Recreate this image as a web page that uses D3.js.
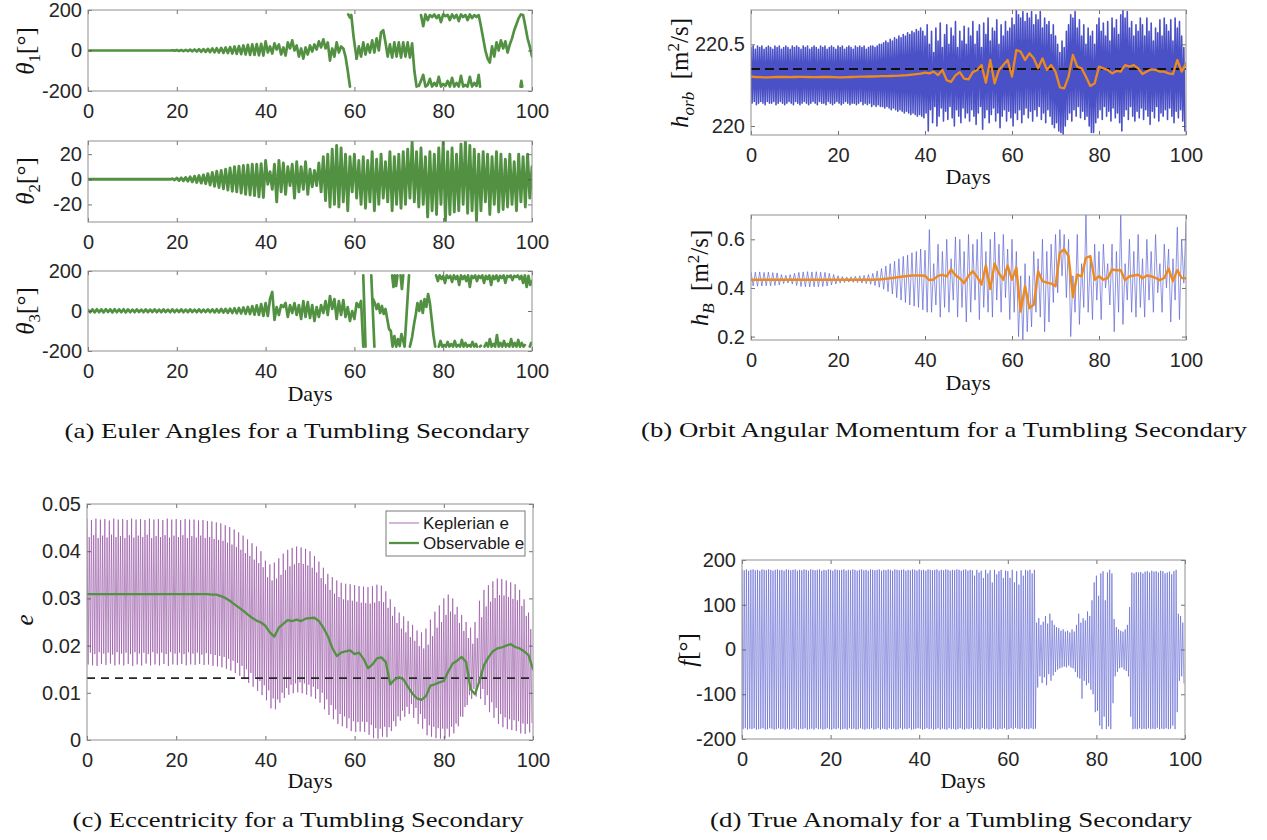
<!DOCTYPE html>
<html>
<head>
<meta charset="utf-8">
<script src="https://cdn.jsdelivr.net/npm/d3@7/dist/d3.min.js"></script>
<style>
  html, body { margin: 0; padding: 0; background: #fff; }
  svg { display: block; }
  .tick text { font-family: "Liberation Sans", Arial, Helvetica, sans-serif; font-size: 20px; fill: #262626; }
  .tick line { stroke: #4d4d4d; stroke-width: 0.8; }
  .serif { font-family: "Liberation Serif", "Times New Roman", serif; fill: #111; white-space: pre; }
</style>
</head>
<body>
<svg id="fig" width="1267" height="840"></svg>
<script>
// ---------------- data ----------------
const dayTicks = [0, 20, 40, 60, 80, 100];

// Euler angle theta1 [deg], sampled every 0.5 day (null = wrap gap)
const theta1 = [
  0,0,0,0,0,0,0,0,0,0,0,0,0,0,0,0,0,0,0,0,
  0,0,0,0,0,0,0,0,0,0,0,0,0,0,0,0,0,0,1,-1,
  2,-2,2,-3,3,-3,4,-4,5,-5,6,-6,7,-7,8,-8,10,-9,11,-10,
  13,-12,15,-13,17,-15,20,-17,22,-18,25,-20,28,-22,30,-22,32,-24,33,-25,
  45,-10,20,-15,35,5,30,-20,15,-25,40,10,50,0,25,-30,10,-40,15,-20,
  25,-5,30,5,45,15,55,10,40,-50,10,-30,40,-10,20,10,-30,-100,-178,null,
  null,-40,20,-30,40,-20,30,-10,50,-10,60,0,90,100,40,-30,30,-35,40,-30,
  40,-35,40,-30,40,-35,35,-100,-178,null,175,120,178,150,175,165,178,160,175,140,
  178,170,176,150,178,160,176,145,178,165,176,150,178,160,175,165,175,120,60,0,
  -40,-60,20,-30,40,0,50,10,45,-10,30,60,100,130,160,178,175,120,60,20,
  -30
];
// wrapped branches of theta1: [day, deg]
const theta1Wrapped = [
  [58.6,178],[59.0,162],[59.3,176],[59.8,70],[60.5,-40], null,
  [74.5,-175],[75,-150],[75.5,-120],[76,-178],[76.5,-170],[77,-140],[77.5,-178],[78,-160],[78.5,-175],
  [79,-130],[79.5,-178],[80,-165],[80.5,-175],[81,-150],[81.5,-178],[82,-135],[82.5,-178],[83,-160],
  [83.5,-178],[84,-125],[84.5,-178],[85,-170],[85.5,-178],[86,-130],[86.5,-178],[87,-160],[87.5,-175],
  [88,-120],[88.3,-178], null,
  [97.4,-178],[97.6,-150],[97.8,-178]
];

// Euler angle theta2 [deg], every 0.5 day
const theta2 = [
  0,0,0,0,0,0,0,0,0,0,0,0,0,0,0,0,0,0,0,0,
  0,0,0,0,0,0,0,0,0,0,0,0,0,0,0,0,0,0,0.5,-0.5,
  1,-1,1.2,-1.2,1.5,-1.5,2,-2,2.5,-2.5,3,-3,3.5,-3.5,4.5,-4.5,5.5,-5.5,6.5,-6.5,
  7,-7.5,8,-8.5,9,-9.5,10,-10,10.5,-11,11,-12,11.5,-12.5,12,-13,12,-14,12.5,-14.5,
  15,-4,6,-8,12,-18,15,-10,13,-12,10,-5,12,-15,14,-10,10,-8,14,-12,
  8,-6,7,-5,13,-10,18,-17,20,-22,24,-20,27,-22,25,-18,20,-25,18,-10,
  20,-15,15,-20,18,-23,15,-18,22,-25,16,-20,20,-15,14,-18,22,-25,18,-20,
  20,-23,22,-20,24,-15,30,-18,22,-22,25,-20,18,-30,22,-25,20,-28,25,-20,
  30,-33,22,-28,25,-26,20,-25,28,-20,31,-27,27,-25,24,-33,20,-25,22,-18,
  20,-28,18,-20,22,-26,20,-24,16,-22,20,-20,14,-25,20,-18,18,-22,20,-15,
  10
];

// Euler angle theta3 [deg], every 0.5 day from day 0 to day 62
const theta3 = [
  5,-6,8,-7,9,-6,8,-7,9,-5,8,-7,9,-6,8,-6,9,-7,8,-6,
  7,-6,8,-5,7,-6,8,-6,7,-5,8,-6,7,-6,8,-5,7,-6,8,-6,
  7,-5,8,-6,7,-6,8,-5,7,-6,8,-6,7,-5,8,-6,8,-7,9,-7,
  10,-8,11,-9,12,-10,14,-11,15,-12,18,-14,20,-15,24,-18,28,-20,35,-25,
  40,-25,60,95,-45,20,-20,30,20,40,-30,30,-10,40,-20,30,-40,50,-30,45,
  -35,30,-50,20,-30,30,-10,50,-20,75,10,60,-40,50,-20,55,-30,20,-50,0,
  -40,40,20,50,-178
];
// theta3 after day 62 (tumbling, wraps at +/-180): [day, deg]
const theta3Late = [
  [62.0,178],[62.5,-178], null,
  [63.8,178],[64.5,-178], null,
  [64.2,60],[64.6,40],[65.0,10],[65.4,35],[65.8,-10],[66.2,25],[66.6,-15],[67.0,10],[67.4,-40],[67.8,-90],
  [68.2,-100],[68.6,-178],[69.0,-125],[69.4,-178],[69.8,-140],[70.2,-175],[70.6,-115],[71.0,-150],[71.3,-178],[72.3,178], null,
  [68.5,178],[68.8,120],[69.1,178],[69.4,125],[69.7,178], null,
  [70.4,178],[70.7,110],[71.0,178], null,
  [72.5,-178],[73.0,-130],[73.4,-70],[73.8,-20],[74.2,40],[74.6,0],[75.0,50],[75.4,-10],[75.8,60],[76.2,20],
  [76.6,85],[77.0,40],[77.4,-40],[77.8,-120],[78.2,-178], null,
  [78.4,178],[78.8,150],[79.2,178],[79.6,160],[80,175],[80.4,140],[80.8,178],[81.2,165],[81.6,176],[82,145],
  [82.4,178],[82.8,160],[83.2,175],[83.6,130],[84,178],[84.4,160],[84.8,176],[85.2,150],[85.6,178],[86,120],
  [86.4,176],[86.8,165],[87.2,178],[87.6,150],[88,176],[88.4,165],[88.8,178],[89.2,140],[89.6,176],[90,160],
  [90.4,178],[90.8,130],[91.2,176],[91.6,160],[92,178],[92.4,150],[92.8,176],[93.2,165],[93.6,178],[94,140],
  [94.4,176],[94.8,170],[95.2,178],[95.6,155],[96,176],[96.4,170],[96.8,178],[97.2,160],[97.6,176],[98,140],
  [98.4,178],[98.8,120],[99.2,176],[99.6,130],[100,150], null,
  [79,-178],[79.4,-150],[79.8,-178],[80.2,-170],[80.6,-178],[81,-155],[81.4,-178],[81.8,-165],[82.2,-178],[82.6,-150],
  [83,-178],[83.4,-170],[83.8,-178],[84.2,-145],[84.6,-178],[85,-160],[85.4,-178],[85.8,-170],[86.2,-178],[86.6,-155],
  [87,-178],[87.4,-165],[87.6,-178], null,
  [88.3,-178],[88.5,-174], null,
  [89.3,-178],[89.7,-160],[90.1,-178],[90.5,-140],[90.9,-178],[91.3,-165],[91.7,-178],[92.1,-120],[92.5,-178],[92.9,-160],
  [93.3,-178],[93.7,-150],[94.1,-178],[94.5,-165],[94.9,-178],[95.3,-140],[95.7,-178],[96.1,-160],[96.5,-178],[96.9,-145],
  [97.3,-178],[97.7,-160],[98.1,-178],[98.4,-170], null,
  [99.5,-178],[99.8,-160]
];

// orbit angular momentum h_orb [m^2/s]: maxima (day i*0.5) and minima (day i*0.5+0.25)
const hOrbPeaks = [
  220.48,220.49,220.47,220.49,220.48,220.49,220.47,220.48,220.49,220.48,220.47,220.49,220.48,220.49,220.47,220.48,220.49,220.48,220.47,220.49,
  220.48,220.49,220.48,220.47,220.49,220.48,220.49,220.47,220.48,220.49,220.48,220.47,220.49,220.48,220.49,220.47,220.48,220.49,220.48,220.47,
  220.49,220.48,220.49,220.47,220.48,220.49,220.48,220.47,220.49,220.48,220.49,220.48,220.49,220.47,220.48,220.49,220.49,220.48,220.49,220.50,
  220.50,220.51,220.52,220.51,220.53,220.52,220.54,220.53,220.55,220.54,220.56,220.55,220.57,220.56,220.58,220.57,220.59,220.58,220.60,220.58,
  220.55,220.62,220.50,220.58,220.45,220.60,220.52,220.63,220.48,220.56,220.62,220.50,220.60,220.55,220.64,220.48,220.58,220.52,220.61,220.50,
  220.60,220.55,220.64,220.50,220.58,220.62,220.48,220.63,220.56,220.66,220.52,220.60,220.58,220.65,220.50,220.62,220.55,220.64,220.58,220.60,
  220.66,220.62,220.71,220.68,220.66,220.70,220.64,220.69,220.66,220.70,220.62,220.68,220.65,220.70,220.60,220.66,220.62,220.64,220.56,220.62,
  220.55,220.50,220.45,220.52,220.48,220.58,220.62,220.68,220.66,220.70,220.60,220.65,220.55,220.62,220.50,220.60,220.55,220.58,220.50,220.62,
  220.66,220.58,220.63,220.55,220.64,220.52,220.66,220.60,220.65,220.56,220.68,220.71,220.66,220.70,220.60,220.64,220.55,220.62,220.58,220.66,
  220.62,220.55,220.66,220.58,220.63,220.52,220.60,220.57,220.65,220.55,220.66,220.62,220.58,220.65,220.52,220.66,220.60,220.64,220.55,220.48
];
const hOrbTroughs = [
  220.14,220.15,220.13,220.14,220.15,220.14,220.13,220.15,220.14,220.14,220.15,220.13,220.14,220.15,220.14,220.13,220.14,220.15,220.14,220.13,
  220.15,220.14,220.13,220.14,220.15,220.14,220.13,220.14,220.15,220.14,220.13,220.15,220.14,220.14,220.13,220.15,220.14,220.13,220.14,220.15,
  220.14,220.13,220.14,220.15,220.14,220.13,220.14,220.14,220.13,220.14,220.15,220.13,220.14,220.13,220.14,220.12,220.13,220.12,220.13,220.12,
  220.12,220.11,220.12,220.11,220.10,220.11,220.10,220.09,220.10,220.09,220.08,220.09,220.08,220.07,220.08,220.07,220.06,220.07,220.06,220.05,
  220.08,219.97,220.10,220.02,220.12,220.00,220.06,220.11,220.03,220.09,220.04,220.12,220.05,220.00,220.10,220.06,220.02,220.11,220.05,220.08,
  220.03,220.10,220.06,220.01,220.08,220.12,219.98,220.05,220.10,220.02,220.07,220.11,220.03,220.08,219.99,220.06,220.10,220.03,220.09,220.05,
  220.00,220.08,220.04,220.10,220.02,220.07,220.11,220.05,220.09,220.03,220.10,220.06,220.12,220.04,220.08,220.02,220.10,220.06,220.01,219.99,
  220.02,219.97,219.96,219.95,220.00,220.04,220.08,220.03,220.10,220.06,220.12,220.05,220.09,220.04,220.06,220.00,219.96,219.96,220.02,220.05,
  220.10,220.04,220.12,220.06,220.09,220.03,220.11,220.05,220.08,220.02,219.97,220.06,220.10,220.04,220.12,220.06,220.03,220.09,220.05,220.11,
  220.04,220.10,220.06,220.01,220.09,220.05,220.12,220.03,220.08,220.06,220.10,220.04,220.11,220.06,220.02,220.09,220.05,220.10,220.03,219.97
];
// daily mean of h_orb
const hOrbMean = [
  220.302,220.300,220.299,220.298,220.298,220.299,220.300,220.301,220.300,220.299,
  220.300,220.301,220.301,220.300,220.299,220.299,220.300,220.301,220.300,220.299,
  220.298,220.298,220.299,220.300,220.301,220.302,220.302,220.303,220.303,220.304,
  220.305,220.305,220.306,220.307,220.308,220.310,220.312,220.315,220.318,220.320,
  220.327,220.322,220.333,220.312,220.343,220.280,220.270,220.310,220.330,220.290,
  220.286,220.330,220.343,220.373,220.265,220.404,220.261,220.343,220.373,220.404,
  220.302,220.465,220.455,220.404,220.445,220.414,220.353,220.414,220.343,220.373,
  220.333,220.237,220.230,220.302,220.435,220.363,220.353,220.302,220.245,220.261,
  220.363,220.353,220.343,220.322,220.337,220.333,220.373,220.363,220.373,220.353,
  220.318,220.333,220.347,220.343,220.333,220.333,220.322,220.318,220.404,220.333,
  220.384
];
const hOrbReference = 220.349;

// body angular momentum h_B [m^2/s]: maxima (day i) and minima (day i+0.5)
const hBPeaks = [
  0.466,0.465,0.466,0.464,0.465,0.463,0.462,0.455,0.452,0.455,
  0.460,0.464,0.466,0.467,0.466,0.467,0.465,0.464,0.460,0.455,
  0.450,0.447,0.445,0.446,0.448,0.450,0.452,0.455,0.460,0.470,
  0.480,0.490,0.500,0.510,0.520,0.530,0.535,0.545,0.550,0.560,
  0.555,0.640,0.500,0.580,0.550,0.600,0.520,0.610,0.600,0.550,
  0.620,0.580,0.600,0.630,0.550,0.600,0.630,0.580,0.620,0.560,
  0.600,0.550,0.450,0.500,0.450,0.550,0.520,0.600,0.550,0.580,
  0.620,0.640,0.620,0.600,0.450,0.620,0.500,0.700,0.520,0.580,
  0.550,0.580,0.500,0.580,0.550,0.700,0.500,0.600,0.550,0.620,
  0.520,0.600,0.550,0.620,0.500,0.580,0.560,0.520,0.650,0.600,
  0.670
];
const hBTroughs = [
  0.408,0.407,0.408,0.409,0.408,0.410,0.412,0.418,0.420,0.416,
  0.410,0.406,0.405,0.404,0.405,0.405,0.406,0.408,0.412,0.416,
  0.420,0.422,0.424,0.423,0.422,0.420,0.418,0.415,0.410,0.403,
  0.395,0.385,0.375,0.360,0.350,0.340,0.330,0.325,0.320,0.310,
  0.300,0.300,0.330,0.280,0.320,0.300,0.350,0.280,0.320,0.260,
  0.300,0.350,0.270,0.320,0.300,0.280,0.350,0.300,0.360,0.270,
  0.300,0.200,0.180,0.220,0.240,0.300,0.280,0.220,0.260,0.340,
  0.380,0.450,0.360,0.200,0.300,0.250,0.320,0.300,0.270,0.350,
  0.270,0.400,0.330,0.220,0.300,0.250,0.350,0.300,0.280,0.320,
  0.280,0.350,0.300,0.380,0.300,0.400,0.260,0.350,0.270,0.420
];
const hBMean = [
  0.434,0.434,0.434,0.434,0.434,0.434,0.434,0.434,0.434,0.434,
  0.434,0.434,0.434,0.434,0.434,0.434,0.434,0.434,0.434,0.434,
  0.434,0.434,0.434,0.434,0.434,0.434,0.434,0.434,0.434,0.435,
  0.436,0.438,0.440,0.442,0.445,0.447,0.449,0.451,0.451,0.451,
  0.450,0.432,0.435,0.450,0.454,0.448,0.476,0.452,0.440,0.420,
  0.450,0.469,0.445,0.414,0.492,0.396,0.500,0.460,0.434,0.492,
  0.434,0.483,0.303,0.407,0.317,0.331,0.469,0.428,0.422,0.418,
  0.407,0.545,0.559,0.531,0.363,0.455,0.448,0.524,0.531,0.434,
  0.448,0.434,0.440,0.476,0.473,0.473,0.432,0.448,0.451,0.455,
  0.440,0.451,0.448,0.441,0.432,0.441,0.479,0.428,0.473,0.441,
  0.440
];

// Keplerian eccentricity: maxima (day i*0.5) and minima (day i*0.5+0.25)
const eKeplerPeaks = [
  0.0468,0.0430,0.0466,0.0434,0.0469,0.0428,0.0467,0.0433,0.0468,0.0429,0.0465,0.0435,0.0469,0.0430,0.0467,0.0432,0.0468,0.0428,0.0466,0.0434,
  0.0469,0.0429,0.0467,0.0433,0.0468,0.0430,0.0466,0.0435,0.0469,0.0428,0.0467,0.0432,0.0468,0.0430,0.0466,0.0434,0.0469,0.0429,0.0467,0.0433,
  0.0468,0.0430,0.0466,0.0434,0.0468,0.0428,0.0467,0.0432,0.0467,0.0429,0.0465,0.0433,0.0466,0.0428,0.0464,0.0430,0.0463,0.0426,0.0461,0.0424,
  0.0459,0.0422,0.0455,0.0418,0.0451,0.0414,0.0446,0.0409,0.0440,0.0403,0.0433,0.0396,0.0425,0.0390,0.0417,0.0382,0.0410,0.0375,0.0400,0.0366,
  0.0380,0.0345,0.0372,0.0338,0.0376,0.0342,0.0385,0.0350,0.0395,0.0360,0.0403,0.0368,0.0407,0.0372,0.0410,0.0375,0.0408,0.0373,0.0405,0.0370,
  0.0400,0.0365,0.0390,0.0355,0.0378,0.0343,0.0365,0.0330,0.0352,0.0318,0.0345,0.0310,0.0338,0.0303,0.0333,0.0298,0.0331,0.0296,0.0330,0.0295,
  0.0328,0.0293,0.0326,0.0291,0.0325,0.0290,0.0324,0.0289,0.0326,0.0291,0.0329,0.0294,0.0327,0.0292,0.0315,0.0280,0.0298,0.0263,0.0282,0.0248,
  0.0270,0.0236,0.0262,0.0228,0.0252,0.0218,0.0244,0.0210,0.0232,0.0199,0.0228,0.0194,0.0236,0.0202,0.0255,0.0220,0.0272,0.0238,0.0285,0.0250,
  0.0300,0.0265,0.0308,0.0272,0.0300,0.0266,0.0282,0.0248,0.0265,0.0231,0.0250,0.0216,0.0238,0.0204,0.0250,0.0216,0.0295,0.0260,0.0318,0.0283,
  0.0328,0.0293,0.0336,0.0301,0.0342,0.0307,0.0341,0.0306,0.0338,0.0303,0.0334,0.0299,0.0330,0.0296,0.0318,0.0284,0.0298,0.0263,0.0270,0.0235
];
const eKeplerTroughs = [
  0.0160,0.0185,0.0158,0.0182,0.0157,0.0186,0.0161,0.0183,0.0159,0.0185,0.0162,0.0181,0.0158,0.0186,0.0160,0.0183,0.0158,0.0185,0.0161,0.0182,
  0.0157,0.0186,0.0160,0.0183,0.0158,0.0185,0.0162,0.0182,0.0158,0.0186,0.0160,0.0183,0.0158,0.0185,0.0161,0.0182,0.0157,0.0186,0.0160,0.0183,
  0.0159,0.0185,0.0161,0.0182,0.0158,0.0186,0.0160,0.0183,0.0159,0.0185,0.0161,0.0181,0.0159,0.0184,0.0160,0.0182,0.0157,0.0180,0.0156,0.0178,
  0.0154,0.0176,0.0151,0.0172,0.0147,0.0168,0.0142,0.0163,0.0136,0.0157,0.0129,0.0150,0.0121,0.0142,0.0113,0.0134,0.0104,0.0125,0.0095,0.0116,
  0.0084,0.0105,0.0067,0.0088,0.0065,0.0086,0.0079,0.0100,0.0089,0.0110,0.0096,0.0117,0.0099,0.0120,0.0101,0.0122,0.0099,0.0120,0.0096,0.0117,
  0.0092,0.0113,0.0087,0.0108,0.0079,0.0100,0.0065,0.0086,0.0053,0.0074,0.0044,0.0065,0.0034,0.0055,0.0029,0.0050,0.0025,0.0046,0.0019,0.0040,
  0.0017,0.0038,0.0018,0.0039,0.0017,0.0038,0.0011,0.0032,0.0004,0.0025,0.0003,0.0024,0.0007,0.0028,0.0006,0.0027,0.0019,0.0040,0.0029,0.0050,
  0.0041,0.0062,0.0049,0.0070,0.0055,0.0076,0.0047,0.0068,0.0034,0.0055,0.0024,0.0045,0.0010,0.0031,0.0007,0.0028,0.0004,0.0025,0.0003,0.0024,
  0.0003,0.0024,0.0007,0.0028,0.0014,0.0035,0.0029,0.0050,0.0049,0.0070,0.0074,0.0095,0.0087,0.0108,0.0092,0.0113,0.0087,0.0108,0.0074,0.0095,
  0.0059,0.0080,0.0047,0.0068,0.0034,0.0055,0.0027,0.0048,0.0023,0.0044,0.0021,0.0042,0.0019,0.0040,0.0014,0.0035,0.0013,0.0034,0.0016,0.0037
];
// observable eccentricity, daily
const eObservable = [
  0.0309,0.0309,0.0309,0.0309,0.0309,0.0309,0.0309,0.0309,0.0309,0.0309,
  0.0309,0.0309,0.0309,0.0309,0.0309,0.0309,0.0309,0.0309,0.0309,0.0309,
  0.0309,0.0309,0.0309,0.0309,0.0309,0.0309,0.0309,0.0309,0.0308,0.0308,
  0.0305,0.0301,0.0295,0.0288,0.0281,0.0274,0.0266,0.0259,0.0253,0.0249,
  0.0242,0.0228,0.0219,0.0238,0.0246,0.0254,0.0252,0.0255,0.0252,0.0257,
  0.0258,0.0259,0.0252,0.0238,0.0220,0.0195,0.0178,0.0185,0.0188,0.0190,
  0.0182,0.0185,0.0172,0.0152,0.0160,0.0173,0.0175,0.0165,0.0118,0.0128,
  0.0133,0.0128,0.0112,0.0098,0.0088,0.0085,0.0093,0.0115,0.0118,0.0122,
  0.0125,0.0145,0.0162,0.0168,0.0176,0.0165,0.0108,0.0097,0.0125,0.0158,
  0.0175,0.0188,0.0194,0.0196,0.0200,0.0203,0.0197,0.0194,0.0188,0.0180,
  0.0150
];
const eReference = 0.0131;

// true anomaly f [deg]: maxima (day i*0.5) and minima (day i*0.5+0.25)
const fPeaks = [
  178,177,179,176,178,179,177,178,176,179,178,177,179,178,176,178,179,177,178,176,
  179,178,177,178,179,176,178,177,179,178,176,179,178,177,178,179,176,178,177,179,
  178,176,179,178,177,178,179,176,178,177,179,178,176,178,179,177,178,176,179,178,
  177,178,179,176,178,177,179,178,176,179,178,177,178,179,176,178,177,179,178,176,
  179,177,178,176,179,178,177,178,179,176,178,177,179,178,176,178,177,179,178,176,
  178,179,176,178,177,165,178,172,176,160,178,170,177,150,178,168,175,178,160,176,
  175,160,178,150,175,145,177,165,178,176,178,170,178,60,70,55,62,75,58,80,
  65,55,50,48,42,45,40,42,38,45,40,55,80,60,70,65,85,75,110,150,
  165,120,170,175,110,172,178,170,68,50,45,42,40,45,55,95,172,170,173,172,
  173,170,174,175,172,176,174,175,172,176,175,170,172,174,168,175,178,80,75,60
];
const fTroughs = [
  -178,-176,-179,-177,-178,-176,-179,-178,-177,-176,-179,-178,-176,-177,-179,-178,-176,-178,-177,-179,
  -177,-179,-178,-176,-178,-179,-177,-178,-176,-179,-178,-177,-179,-176,-178,-177,-179,-178,-176,-178,
  -179,-177,-178,-176,-179,-178,-177,-179,-176,-178,-177,-179,-178,-176,-178,-179,-177,-178,-176,-179,
  -178,-176,-179,-177,-178,-179,-176,-178,-177,-179,-178,-176,-179,-177,-178,-176,-179,-178,-177,-176,
  -177,-179,-178,-176,-178,-177,-179,-178,-176,-179,-177,-178,-179,-176,-178,-177,-179,-178,-176,-178,
  -179,-177,-178,-176,-179,-178,-177,-179,-176,-178,-177,-179,-178,-176,-178,-179,-177,-178,-176,-179,
  -178,-176,-178,-175,-177,-178,-176,-178,-177,-178,-176,-178,-177,-85,-60,-75,-62,-80,-55,-70,
  -58,-50,-45,-42,-40,-38,-40,-36,-40,-42,-50,-62,-65,-110,-70,-80,-75,-90,-100,-140,
  -137,-170,-178,-150,-178,-172,-178,-120,-60,-50,-42,-40,-45,-48,-60,-150,-178,-177,-178,-176,
  -178,-177,-178,-176,-178,-177,-178,-175,-178,-177,-178,-176,-178,-177,-170,-178,-140,-70,-60,-75
];

// ---------------- layout & style ----------------
const svg = d3.select('#fig');
const GREEN = '#529142', BLUE = '#4a50c6', ORANGE = '#ec8a1f', PURPLE = '#8e469c';

function panel(id, box, yDomain) {
  const x = d3.scaleLinear().domain([0, 100]).range([box.x0, box.x1]);
  const y = d3.scaleLinear().domain(yDomain).range([box.y1, box.y0]);
  svg.append('clipPath').attr('id', 'clip-' + id).append('rect')
    .attr('x', box.x0).attr('y', box.y0)
    .attr('width', box.x1 - box.x0).attr('height', box.y1 - box.y0);
  const plot = svg.append('g').attr('clip-path', `url(#clip-${id})`);
  return { x, y, plot, box };
}

function axes(p, yTicks) {
  const { x, y, box } = p;
  const fmt = d => String(d);
  const g = svg.append('g');
  g.append('g').attr('transform', `translate(0,${box.y1})`)
    .call(d3.axisBottom(x).tickValues(dayTicks).tickSizeInner(-4).tickSizeOuter(0).tickPadding(13).tickFormat(fmt));
  g.append('g').attr('transform', `translate(0,${box.y0})`)
    .call(d3.axisTop(x).tickValues(dayTicks).tickSizeInner(-4).tickSizeOuter(0).tickFormat(''));
  g.append('g').attr('transform', `translate(${box.x0},0)`)
    .call(d3.axisLeft(y).tickValues(yTicks).tickSizeInner(-4).tickSizeOuter(0).tickPadding(6).tickFormat(fmt));
  g.append('g').attr('transform', `translate(${box.x1},0)`)
    .call(d3.axisRight(y).tickValues(yTicks).tickSizeInner(-4).tickSizeOuter(0).tickFormat(''));
  g.selectAll('.domain').remove();
  g.append('rect').attr('x', box.x0).attr('y', box.y0)
    .attr('width', box.x1 - box.x0).attr('height', box.y1 - box.y0)
    .attr('fill', 'none').attr('stroke', '#8f8f8f').attr('stroke-width', 1);
}

function path(p, pts, stroke, width, opacity) {
  const line = d3.line().defined(d => d !== null)
    .x(d => p.x(d[0])).y(d => p.y(d[1]));
  return p.plot.append('path').datum(pts).attr('d', line)
    .attr('fill', 'none').attr('stroke', stroke).attr('stroke-width', width)
    .attr('stroke-opacity', opacity == null ? 1 : opacity)
    .attr('stroke-linejoin', 'round').attr('stroke-linecap', 'round');
}

const uniform = (vals, step) => vals.map((v, i) => v === null ? null : [i * step, v]);
function zigzag(peaks, troughs, step) {
  const pts = [];
  peaks.forEach((v, i) => {
    pts.push([i * step, v]);
    if (i < troughs.length) pts.push([i * step + step / 2, troughs[i]]);
  });
  return pts;
}

function yLabel(cx, cy, parts, size) {
  const t = svg.append('text').attr('class', 'serif').attr('font-size', size || 25)
    .attr('text-anchor', 'middle').attr('y', 8)
    .attr('transform', `translate(${cx},${cy}) rotate(-90)`);
  let shift = 0;
  parts.forEach(pt => {
    const target = pt.sub ? 6 : pt.sup ? -9 : 0;
    const s = t.append('tspan').text(pt.t).attr('dy', target - shift);
    shift = target;
    if (pt.sub || pt.sup) s.attr('font-size', 17);
    if (pt.it) s.attr('font-style', 'italic');
  });
}

function label(x, y, txt, size, len) {
  const t = svg.append('text').attr('class', 'serif').attr('x', x).attr('y', y)
    .attr('text-anchor', 'middle').attr('font-size', size).text(txt);
  if (len) t.attr('textLength', len).attr('lengthAdjust', 'spacingAndGlyphs');
}

// ---------------- (a) Euler angles ----------------
const pT1 = panel('t1', { x0: 88, x1: 532, y0: 10, y1: 91 }, [-200, 200]);
path(pT1, uniform(theta1, 0.5), GREEN, 2.7);
path(pT1, theta1Wrapped, GREEN, 2.7);
axes(pT1, [-200, 0, 200]);
yLabel(26, 51, [{ t: 'θ', it: true }, { t: '1', sub: true }, { t: '[°]' }]);

const pT2 = panel('t2', { x0: 88, x1: 532, y0: 141, y1: 222 }, [-34, 30.5]);
path(pT2, uniform(theta2, 0.5), GREEN, 2.9);
axes(pT2, [-20, 0, 20]);
yLabel(26, 181, [{ t: 'θ', it: true }, { t: '2', sub: true }, { t: '[°]' }]);

const pT3 = panel('t3', { x0: 88, x1: 532, y0: 271, y1: 351 }, [-200, 200]);
path(pT3, uniform(theta3, 0.5), GREEN, 2.7);
path(pT3, theta3Late, GREEN, 2.7);
axes(pT3, [-200, 0, 200]);
yLabel(26, 311, [{ t: 'θ', it: true }, { t: '3', sub: true }, { t: '[°]' }]);
label(310, 401, 'Days', 22);
label(297, 438, '(a) Euler Angles for a Tumbling Secondary', 22, 465);

// ---------------- (b) orbit angular momentum ----------------
const pHo = panel('ho', { x0: 751, x1: 1186, y0: 10, y1: 135 }, [219.945, 220.71]);
path(pHo, zigzag(hOrbPeaks, hOrbTroughs, 0.5), BLUE, 1.6);
pHo.plot.append('line')
  .attr('x1', pHo.x(0)).attr('x2', pHo.x(100))
  .attr('y1', pHo.y(hOrbReference)).attr('y2', pHo.y(hOrbReference))
  .attr('stroke', '#111').attr('stroke-width', 1.8).attr('stroke-dasharray', '9,5');
path(pHo, uniform(hOrbMean, 1), ORANGE, 2.3);
axes(pHo, [220, 220.5]);
yLabel(680, 73, [{ t: 'h', it: true }, { t: 'orb', it: true, sub: true }, { t: '  [m' }, { t: '2', sup: true }, { t: '/s]' }]);
label(968, 184, 'Days', 22);

const pHb = panel('hb', { x0: 751, x1: 1186, y0: 215, y1: 340 }, [0.186, 0.70]);
path(pHb, zigzag(hBPeaks, hBTroughs, 1), '#5b62d2', 0.8, 0.85);
path(pHb, uniform(hBMean, 1), ORANGE, 2.4);
axes(pHb, [0.2, 0.4, 0.6]);
yLabel(700, 278, [{ t: 'h', it: true }, { t: 'B', it: true, sub: true }, { t: '  [m' }, { t: '2', sup: true }, { t: '/s]' }]);
label(968, 390, 'Days', 22);
label(944, 437, '(b) Orbit Angular Momentum for a Tumbling Secondary', 22, 606);

// ---------------- (c) eccentricity ----------------
const pE = panel('ecc', { x0: 87, x1: 533, y0: 504, y1: 740 }, [0, 0.05]);
path(pE, zigzag(eKeplerPeaks, eKeplerTroughs, 0.5), PURPLE, 0.75, 0.8);
pE.plot.append('line')
  .attr('x1', pE.x(0)).attr('x2', pE.x(100))
  .attr('y1', pE.y(eReference)).attr('y2', pE.y(eReference))
  .attr('stroke', '#262626').attr('stroke-width', 1.6).attr('stroke-dasharray', '8,6');
path(pE, uniform(eObservable, 1), GREEN, 2.3);
axes(pE, [0, 0.01, 0.02, 0.03, 0.04, 0.05]);
yLabel(25, 620, [{ t: 'e', it: true }]);
label(310, 788, 'Days', 22);
label(298, 827, '(c) Eccentricity for a Tumbling Secondary', 22, 451);

// legend
const lg = svg.append('g');
lg.append('rect').attr('x', 386).attr('y', 511).attr('width', 139).attr('height', 45)
  .attr('fill', '#fff').attr('stroke', '#7a7a7a').attr('stroke-width', 1);
const legendItems = [
  { name: 'Keplerian e', color: PURPLE, width: 1, opacity: 0.8 },
  { name: 'Observable e', color: GREEN, width: 2.3, opacity: 1 }
];
legendItems.forEach((it, i) => {
  const cy = 523 + i * 20;
  lg.append('line').attr('x1', 389).attr('x2', 419).attr('y1', cy).attr('y2', cy)
    .attr('stroke', it.color).attr('stroke-width', it.width).attr('stroke-opacity', it.opacity);
  lg.append('text').attr('x', 423).attr('y', cy + 6)
    .attr('font-family', '"Liberation Sans", Arial, sans-serif').attr('font-size', 17)
    .attr('fill', '#1a1a1a').text(it.name);
});

// ---------------- (d) true anomaly ----------------
const pF = panel('f', { x0: 742, x1: 1185, y0: 560, y1: 739 }, [-200, 200]);
path(pF, zigzag(fPeaks, fTroughs, 0.5), '#565ccf', 0.65, 0.9);
axes(pF, [-200, -100, 0, 100, 200]);
yLabel(688, 650, [{ t: 'f', it: true }, { t: '[°]' }]);
label(963, 788, 'Days', 22);
label(951, 827, '(d) True Anomaly for a Tumbling Secondary', 22, 482);
</script>
</body>
</html>
